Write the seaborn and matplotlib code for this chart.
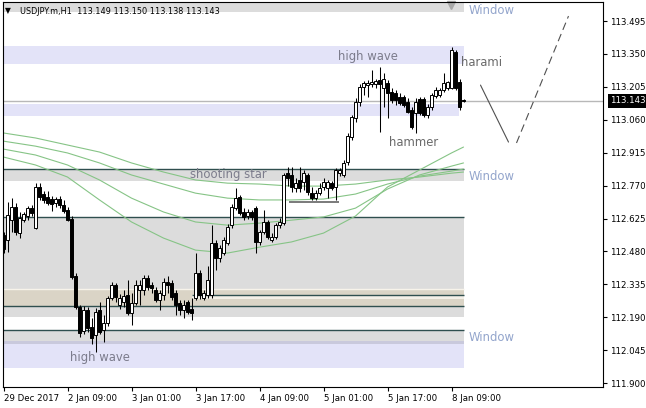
import matplotlib
matplotlib.use("Agg")
import matplotlib.pyplot as plt
from matplotlib.patches import Rectangle
import matplotlib.transforms as mtransforms
import pandas as pd
import seaborn as sns

# ---------------- data (USDJPY.m, H1) ----------------
opens = [112.552, 112.530, 112.618, 112.676, 112.561, 112.618, 112.636, 112.671, 112.583, 112.764,
         112.733, 112.720, 112.711, 112.693, 112.711, 112.685, 112.662, 112.623, 112.372, 112.235,
         112.129, 112.222, 112.147, 112.112, 112.222, 112.134, 112.165, 112.275, 112.332, 112.244,
         112.257, 112.288, 112.209, 112.253, 112.310, 112.310, 112.363, 112.332, 112.310, 112.266,
         112.288, 112.345, 112.341, 112.297, 112.253, 112.222, 112.257, 112.226, 112.275, 112.385,
         112.275, 112.288, 112.288, 112.517, 112.451, 112.473, 112.517, 112.596, 112.671, 112.720,
         112.654, 112.636, 112.654, 112.671, 112.522, 112.566, 112.610, 112.530, 112.544, 112.596,
         112.605, 112.825, 112.817, 112.759, 112.795, 112.786, 112.817, 112.737, 112.715, 112.737,
         112.764, 112.759, 112.781, 112.764, 112.825, 112.817, 112.874, 112.984, 113.068, 113.138,
         113.204, 113.213, 113.218, 113.218, 113.235, 113.200, 113.222, 113.182, 113.178, 113.160,
         113.160, 113.138, 113.103, 113.090, 113.151, 113.151, 113.081, 113.116, 113.165, 113.169,
         113.191, 113.200, 113.200, 113.358, 113.226, 113.149]
highs = [112.566, 112.698, 112.715, 112.693, 112.654, 112.654, 112.680, 112.685, 112.781, 112.781,
         112.746, 112.746, 112.724, 112.720, 112.724, 112.707, 112.676, 112.636, 112.385, 112.244,
         112.240, 112.235, 112.187, 112.231, 112.257, 112.200, 112.284, 112.345, 112.341, 112.292,
         112.310, 112.354, 112.297, 112.354, 112.354, 112.376, 112.376, 112.345, 112.323, 112.310,
         112.363, 112.372, 112.354, 112.310, 112.266, 112.266, 112.266, 112.275, 112.473, 112.398,
         112.310, 112.416, 112.596, 112.530, 112.508, 112.544, 112.601, 112.689, 112.759, 112.729,
         112.671, 112.667, 112.662, 112.680, 112.574, 112.662, 112.618, 112.561, 112.605, 112.627,
         112.825, 112.852, 112.852, 112.803, 112.852, 112.839, 112.825, 112.764, 112.751, 112.781,
         112.803, 112.795, 112.790, 112.848, 112.848, 112.883, 113.002, 113.081, 113.156, 113.218,
         113.231, 113.235, 113.279, 113.240, 113.292, 113.266, 113.235, 113.200, 113.191, 113.178,
         113.169, 113.156, 113.116, 113.156, 113.160, 113.160, 113.129, 113.178, 113.204, 113.200,
         113.266, 113.231, 113.380, 113.367, 113.240, 113.150]
lows = [112.473, 112.477, 112.566, 112.552, 112.539, 112.610, 112.618, 112.636, 112.579, 112.707,
        112.693, 112.685, 112.658, 112.676, 112.671, 112.649, 112.614, 112.359, 112.226, 112.103,
        112.116, 112.125, 112.072, 112.037, 112.116, 112.081, 112.151, 112.266, 112.257, 112.226,
        112.235, 112.200, 112.156, 112.244, 112.244, 112.288, 112.310, 112.297, 112.257, 112.222,
        112.266, 112.297, 112.266, 112.200, 112.200, 112.187, 112.204, 112.178, 112.266, 112.270,
        112.266, 112.275, 112.275, 112.398, 112.433, 112.464, 112.508, 112.583, 112.662, 112.640,
        112.618, 112.623, 112.618, 112.473, 112.508, 112.557, 112.535, 112.522, 112.535, 112.583,
        112.596, 112.768, 112.742, 112.742, 112.742, 112.751, 112.729, 112.707, 112.707, 112.729,
        112.751, 112.715, 112.751, 112.707, 112.812, 112.808, 112.861, 112.971, 113.050, 113.121,
        113.169, 113.160, 113.204, 113.200, 113.006, 113.116, 113.068, 113.134, 113.125, 113.125,
        113.116, 113.090, 113.019, 113.002, 113.081, 113.072, 113.068, 113.103, 113.156, 113.160,
        113.182, 113.191, 113.196, 113.191, 113.103, 113.138]
closes = [112.491, 112.640, 112.676, 112.566, 112.627, 112.645, 112.671, 112.649, 112.764, 112.720,
          112.707, 112.693, 112.689, 112.711, 112.685, 112.658, 112.618, 112.367, 112.235, 112.121,
          112.222, 112.143, 112.099, 112.213, 112.125, 112.165, 112.275, 112.332, 112.279, 112.275,
          112.284, 112.209, 112.253, 112.332, 112.332, 112.363, 112.323, 112.319, 112.266, 112.297,
          112.345, 112.332, 112.279, 112.244, 112.222, 112.244, 112.213, 112.209, 112.385, 112.288,
          112.297, 112.354, 112.517, 112.451, 112.495, 112.530, 112.588, 112.676, 112.715, 112.649,
          112.632, 112.654, 112.632, 112.522, 112.566, 112.610, 112.544, 112.544, 112.596, 112.610,
          112.817, 112.803, 112.764, 112.781, 112.759, 112.825, 112.742, 112.715, 112.737, 112.759,
          112.786, 112.786, 112.759, 112.839, 112.839, 112.870, 112.988, 113.072, 113.138, 113.204,
          113.222, 113.222, 113.226, 113.231, 113.218, 113.240, 113.178, 113.147, 113.147, 113.134,
          113.125, 113.094, 113.028, 113.138, 113.090, 113.081, 113.116, 113.169, 113.191, 113.191,
          113.222, 113.226, 113.367, 113.200, 113.116, 113.143]

# moving averages at these bar positions
ma_bars = [0, 8, 16, 24, 32, 40, 48, 56, 64, 72, 80, 88, 96, 104, 112, 115]
ma_fast = [112.896, 112.861, 112.808, 112.707, 112.610, 112.539, 112.486, 112.473,
           112.499, 112.522, 112.561, 112.636, 112.764, 112.839, 112.914, 112.940]
ma_mid1 = [112.931, 112.905, 112.861, 112.795, 112.715, 112.654, 112.610, 112.596,
           112.605, 112.618, 112.632, 112.671, 112.755, 112.817, 112.856, 112.870]
ma_mid2 = [112.966, 112.944, 112.914, 112.870, 112.817, 112.777, 112.737, 112.715,
           112.707, 112.707, 112.711, 112.733, 112.777, 112.812, 112.834, 112.843]
ma_slow = [113.002, 112.980, 112.949, 112.918, 112.870, 112.830, 112.795, 112.781,
           112.777, 112.768, 112.768, 112.777, 112.795, 112.808, 112.825, 112.830]

# zones (price bands)
zone_lo = [113.535, 113.306, 113.077, 112.790, 112.191, 112.240, 112.081, 111.966]
zone_hi = [113.579, 113.385, 113.129, 112.843, 112.632, 112.314, 112.134, 112.081]
zone_end = [115, 115, 113.75, 115, 115, 115, 115, 115]
zone_col = ['#dcdcdc', '#e3e3f8', '#e3e3f8', '#dcdcdc', '#dcdcdc', '#dad4c6', '#dcdcdc', '#e3e3f8']
border_levels = [112.843, 112.632, 112.240, 112.134]
light_band = (112.270, 112.288)
light_band_start = 47
support_level = 112.700
support_bars = [71.25, 83.75]

# forecast sketch
fc_solid_x = [119.25, 126.25]
fc_solid_y = [113.213, 112.962]
fc_dash_x = [128.25, 141.25]
fc_dash_y = [112.958, 113.517]

last_price = 113.143
x_tick_pos = [0, 16, 32, 48, 64, 80, 96, 112]
x_tick_labels = ['29 Dec 2017', '2 Jan 09:00', '3 Jan 01:00', '3 Jan 17:00',
                 '4 Jan 09:00', '5 Jan 01:00', '5 Jan 17:00', '8 Jan 09:00']
y_tick_labels = ['111.900', '112.045', '112.190', '112.335', '112.480', '112.625',
                 '112.770', '112.915', '113.060', '113.205', '113.350', '113.495']

# ---------------- figure ----------------
sns.set_style("white")
plt.rcParams["font.family"] = ["DejaVu Sans"]

W, H = 646, 408
fig = plt.figure(figsize=(W / 100, H / 100), dpi=100)
ax = fig.add_axes([3 / W, 21 / H, 600 / W, 385 / H])
ax.set_xlim(-0.125, 149.875)
ax.set_ylim(111.883, 113.579)

x_left = -0.125
for lo, hi, end, col in zip(zone_lo, zone_hi, zone_end, zone_col):
    ax.add_patch(Rectangle((x_left, lo), end - x_left, hi - lo, facecolor=col,
                           edgecolor='none', zorder=0))
# overlap strip between grey window and lavender band
ax.add_patch(Rectangle((x_left, 112.074), 115 - x_left, 0.011, facecolor='#c9c9dc',
                       edgecolor='none', zorder=0.5))
ax.hlines(112.314, x_left, 115, color='#f7f3ea', lw=1.0, zorder=0.6)
ax.add_patch(Rectangle((light_band_start, light_band[0]), 115 - light_band_start,
                       light_band[1] - light_band[0], facecolor='#f3efe7',
                       edgecolor='none', zorder=0.6))
ax.hlines(light_band[1], light_band_start, 115, color='#2f4f4f', lw=1.0, zorder=0.7)
ax.hlines(border_levels, x_left, 115, color='#2f4f4f', lw=1.0, zorder=0.7)

# current price line
ax.axhline(last_price, color='#b8b8b8', lw=1.0, zorder=1)

# moving averages
ma_df = pd.DataFrame({'bar': ma_bars * 4,
                      'value': ma_fast + ma_mid1 + ma_mid2 + ma_slow,
                      'ma': ['fast'] * 16 + ['mid1'] * 16 + ['mid2'] * 16 + ['slow'] * 16})
sns.lineplot(data=ma_df, x='bar', y='value', hue='ma', units='ma', estimator=None,
             palette=['#86c486'] * 4, lw=0.8, legend=False, ax=ax, zorder=2)

# support line
ax.hlines(support_level, support_bars[0], support_bars[1], color='#7a7a7a', lw=1.4, zorder=2.5)

# candles
df = pd.DataFrame(dict(bar=range(len(opens)), open=opens, high=highs, low=lows, close=closes))
up = df.close >= df.open
ax.vlines(df.bar, df.low, df.high, color='black', lw=0.75, zorder=4)
ax.bar(df.bar[up], (df.close - df.open)[up], bottom=df.open[up], width=0.72,
       color='white', edgecolor='black', lw=0.7, zorder=5)
ax.bar(df.bar[~up], (df.open - df.close)[~up], bottom=df.close[~up], width=0.72,
       color='black', edgecolor='black', lw=0.7, zorder=5)

# forecast sketch
ax.plot(fc_solid_x, fc_solid_y, color='#505050', lw=0.8, zorder=3)
ax.plot(fc_dash_x, fc_dash_y, color='#505050', lw=0.8, ls=(0, (7, 4)), zorder=3)

# shift marker
ax.plot([111.8], [113.565], marker='v', ms=6, color='#a8a8a8', zorder=1, clip_on=False)

# labels
lab_kw = dict(fontsize=8.4, va='center', ha='left', zorder=6)
ax.text(83.75, 113.341, 'high wave', color='#7c7c8c', **lab_kw)
ax.text(114.5, 113.314, 'harami', color='#6a6a6a', **lab_kw)
ax.text(96.25, 112.962, 'hammer', color='#6a6a6a', **lab_kw)
ax.text(46.75, 112.821, 'shooting star', color='#7c7c8c', **lab_kw)
ax.text(16.75, 112.015, 'high wave', color='#7c7c8c', **lab_kw)
for yy in [113.543, 112.812, 112.103]:
    ax.text(116.25, yy, 'Window', color='#93a5cc', **lab_kw)

# axes styling
for s in ax.spines.values():
    s.set_color('black')
    s.set_linewidth(0.8)
ax.yaxis.tick_right()
ax.set_yticks([float(v) for v in y_tick_labels])
ax.set_yticklabels(y_tick_labels)
ax.set_xticks(x_tick_pos)
ax.set_xticklabels(x_tick_labels)
for lab in ax.get_xticklabels():
    lab.set_ha('left')
ax.tick_params(axis='both', which='both', direction='out', length=3, width=0.8,
               colors='black', labelsize=6.2, pad=2)
ax.tick_params(axis='y', right=True, left=False)
ax.tick_params(axis='x', bottom=True)
ax.set_xlabel('')
ax.set_ylabel('')
ax.grid(False)

trans = mtransforms.blended_transform_factory(ax.transAxes, ax.transData)
ax.text(1.012, last_price, '113.143', transform=trans, ha='left', va='center',
        fontsize=6.2, color='white', zorder=7, clip_on=False,
        bbox=dict(facecolor='black', edgecolor='none', pad=1.6))

fig.text(8 / W, 1 - 11 / H, '\u25bc', fontsize=5.5, color='black', ha='center', va='center')
fig.text(20 / W, 1 - 11 / H, 'USDJPY.m,H1  113.149 113.150 113.138 113.143',
         fontsize=5.9, color='black', ha='left', va='center')

fig.savefig('out.png', dpi=100)
